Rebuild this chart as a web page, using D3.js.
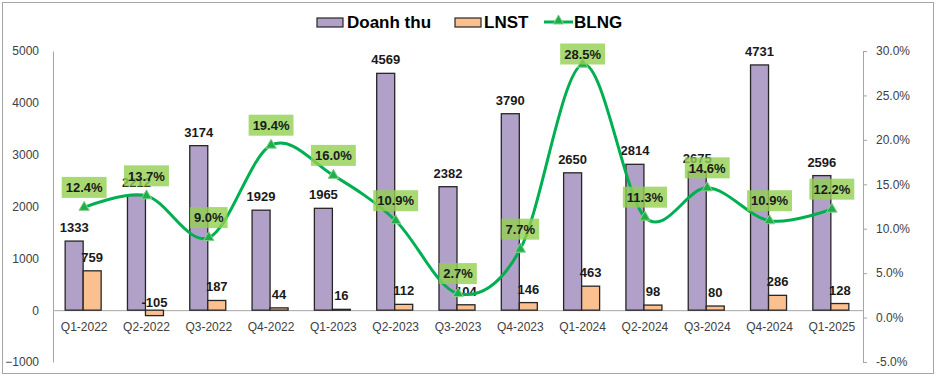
<!DOCTYPE html>
<html>
<head>
<meta charset="utf-8">
<script src="https://cdn.jsdelivr.net/npm/d3@7"></script>
<style>
  body { margin: 0; background: #fff; }
  svg { display: block; font-family: "Liberation Sans", Arial, sans-serif; }
</style>
</head>
<body>
<svg id="chart" width="939" height="379"></svg>
<script>
//Data
const quarters = ["Q1-2022", "Q2-2022", "Q3-2022", "Q4-2022", "Q1-2023", "Q2-2023", "Q3-2023",
                  "Q4-2023", "Q1-2024", "Q2-2024", "Q3-2024", "Q4-2024", "Q1-2025"];
const doanhThu = [1333, 2212, 3174, 1929, 1965, 4569, 2382, 3790, 2650, 2814, 2675, 4731, 2596];
const lnst = [759, -105, 187, 44, 16, 112, 104, 146, 463, 98, 80, 286, 128];
const blng = [12.4, 13.7, 9.0, 19.4, 16.0, 10.9, 2.7, 7.7, 28.5, 11.3, 14.6, 10.9, 12.2];
const leftTicks = [-1000, 0, 1000, 2000, 3000, 4000, 5000];
const rightTicks = [-5, 0, 5, 10, 15, 20, 25, 30];

//Measures (px)
const plotLeft = 53, plotRight = 863, plotTop = 51, plotBottom = 362;
const barW = 18;

const svg = d3.select("#chart");

//Outer border
svg.append("rect")
  .attr("x", 2.5).attr("y", 2.5)
  .attr("width", 931).attr("height", 371)
  .attr("fill", "#fff").attr("stroke", "#a6a6a6");

//Scales
const xScale = d3.scaleBand().domain(quarters).range([plotLeft, plotRight]).padding(0);
const yLeft = d3.scaleLinear().domain([-1000, 5000]).range([plotBottom, plotTop]);
const yRight = d3.scaleLinear().domain([-5, 30]).range([plotBottom, plotTop]);
const cx = (q) => xScale(q) + xScale.bandwidth() / 2;

//Left axis
const leftAxis = svg.append("g")
  .attr("transform", `translate(${plotLeft},0)`)
  .call(d3.axisLeft(yLeft).tickValues(leftTicks).tickSize(0).tickPadding(14).tickFormat(d3.format("d")));
leftAxis.select(".domain").attr("stroke", "#a6a6a6");
leftAxis.selectAll("text").attr("font-size", 12).attr("fill", "#404040")
  .attr("font-family", "Liberation Sans, Arial, sans-serif");

//Right axis
const rightAxis = svg.append("g")
  .attr("transform", `translate(${plotRight},0)`)
  .call(d3.axisRight(yRight).tickValues(rightTicks).tickSize(4).tickPadding(9)
    .tickSizeOuter(0).tickFormat((d) => d.toFixed(1) + "%"));
rightAxis.select(".domain").attr("stroke", "#a6a6a6");
rightAxis.selectAll("line").attr("stroke", "#a6a6a6");
rightAxis.selectAll("text").attr("font-size", 12).attr("fill", "#404040")
  .attr("font-family", "Liberation Sans, Arial, sans-serif");

//Category axis on the zero line
const xAxis = svg.append("g")
  .attr("transform", `translate(0,${yLeft(0)})`)
  .call(d3.axisBottom(xScale).tickSize(0).tickPadding(12));
xAxis.select(".domain").attr("stroke", "#a6a6a6");
xAxis.selectAll("text").attr("font-size", 12).attr("fill", "#404040")
  .attr("font-family", "Liberation Sans, Arial, sans-serif");

//Bars
const bars = svg.append("g");
bars.selectAll("rect.dt")
  .data(quarters)
  .enter().append("rect")
  .attr("class", "dt")
  .attr("x", (q) => cx(q) - barW - 1)
  .attr("y", (q, i) => yLeft(Math.max(doanhThu[i], 0)))
  .attr("width", barW)
  .attr("height", (q, i) => Math.abs(yLeft(doanhThu[i]) - yLeft(0)))
  .attr("fill", "#b1a0c7").attr("stroke", "#262626").attr("stroke-width", 1.3);

bars.selectAll("rect.ln")
  .data(quarters)
  .enter().append("rect")
  .attr("class", "ln")
  .attr("x", (q) => cx(q) - 1)
  .attr("y", (q, i) => yLeft(Math.max(lnst[i], 0)))
  .attr("width", barW)
  .attr("height", (q, i) => Math.abs(yLeft(lnst[i]) - yLeft(0)))
  .attr("fill", "#fac090").attr("stroke", "#262626").attr("stroke-width", 1.3);

//Bar labels
const labels = svg.append("g")
  .attr("font-size", 13).attr("font-weight", "bold").attr("fill", "#1a1a1a")
  .attr("text-anchor", "middle");
labels.selectAll("text.dt")
  .data(quarters)
  .enter().append("text")
  .attr("x", (q) => cx(q) - barW / 2 - 1)
  .attr("y", (q, i) => yLeft(doanhThu[i]) - 9)
  .text((q, i) => doanhThu[i]);
labels.selectAll("text.ln")
  .data(quarters)
  .enter().append("text")
  .attr("x", (q) => cx(q) + barW / 2 - 1)
  .attr("y", (q, i) => lnst[i] >= 0 ? yLeft(lnst[i]) - 9 : yLeft(0) - 3)
  .text((q, i) => lnst[i]);

//BLNG line
const line = d3.line()
  .x((d, i) => cx(quarters[i]))
  .y((d) => yRight(d))
  .curve(d3.curveCardinal.tension(0));
svg.append("path")
  .datum(blng)
  .attr("d", line)
  .attr("fill", "none")
  .attr("stroke", "#00b050")
  .attr("stroke-width", 3);

const tri = d3.symbol().type(d3.symbolTriangle).size(48);
svg.append("g").selectAll("path")
  .data(blng)
  .enter().append("path")
  .attr("d", tri)
  .attr("transform", (d, i) => `translate(${cx(quarters[i])},${yRight(d)})`)
  .attr("fill", "#1eaf4b").attr("stroke", "#8fd08f").attr("stroke-width", 1);

//BLNG labels with green boxes
const blngLabels = svg.append("g");
blng.forEach((v, i) => {
  const x = cx(quarters[i]);
  const y = Math.max(yRight(v) - 20, 54);
  const g = blngLabels.append("g").attr("transform", `translate(${x},${y})`);
  const t = g.append("text")
    .attr("text-anchor", "middle")
    .attr("dy", "0.36em")
    .attr("font-size", 13).attr("font-weight", "bold").attr("fill", "#1a1a1a")
    .text(v.toFixed(1) + "%");
  const w = t.node().getComputedTextLength() + 8;
  g.insert("rect", "text")
    .attr("x", -w / 2).attr("y", -10.5)
    .attr("width", w).attr("height", 21)
    .attr("fill", "#92d050").attr("opacity", 0.8);
});

//Legend
const legend = svg.append("g").attr("font-size", 17).attr("font-weight", "bold").attr("fill", "#000");
legend.append("rect").attr("x", 317).attr("y", 18).attr("width", 26).attr("height", 9)
  .attr("fill", "#b1a0c7").attr("stroke", "#262626").attr("stroke-width", 1.2);
legend.append("text").attr("x", 347).attr("y", 28).text("Doanh thu");
legend.append("rect").attr("x", 455).attr("y", 18).attr("width", 26).attr("height", 9)
  .attr("fill", "#fac090").attr("stroke", "#262626").attr("stroke-width", 1.2);
legend.append("text").attr("x", 484).attr("y", 28).text("LNST");
legend.append("line").attr("x1", 544).attr("x2", 573).attr("y1", 22).attr("y2", 22)
  .attr("stroke", "#00b050").attr("stroke-width", 3);
legend.append("path").attr("d", tri).attr("transform", "translate(558.5,21)")
  .attr("fill", "#1eaf4b").attr("stroke", "#8fd08f");
legend.append("text").attr("x", 574).attr("y", 28).text("BLNG");
</script>
</body>
</html>
